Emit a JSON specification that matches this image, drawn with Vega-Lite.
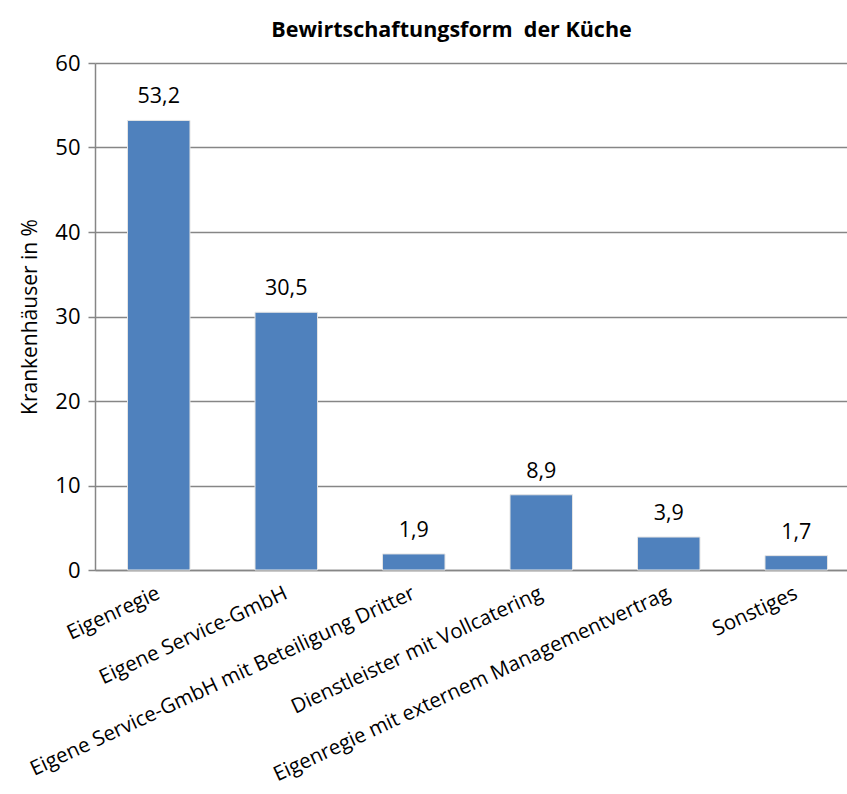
{
  "$schema": "https://vega.github.io/schema/vega-lite/v6.json",
  "width": 765,
  "height": 507,
  "autosize": {"type": "none"},
  "padding": {"left": 95, "top": 63, "right": 0, "bottom": 224},
  "background": "white",
  "config": {
    "view": {"stroke": null},
    "font": "Open Sans",
    "locale": {"number": {"decimal": ",", "thousands": ".", "grouping": [3], "currency": ["", " €"]}}
  },
  "title": {
    "text": "Bewirtschaftungsform\u00a0 der Küche",
    "font": "Open Sans",
    "fontSize": 21.5,
    "fontWeight": "bold",
    "color": "#000000",
    "anchor": "middle",
    "dx": -26,
    "offset": 11
  },
  "data": {
    "values": [
      {"kategorie": "Eigenregie", "wert": 53.2},
      {"kategorie": "Eigene Service-GmbH", "wert": 30.5},
      {"kategorie": "Eigene Service-GmbH mit Beteiligung Dritter", "wert": 1.9},
      {"kategorie": "Dienstleister mit Vollcatering", "wert": 8.9},
      {"kategorie": "Eigenregie mit externem Managementvertrag", "wert": 3.9},
      {"kategorie": "Sonstiges", "wert": 1.7}
    ]
  },
  "encoding": {
    "x": {
      "field": "kategorie",
      "type": "nominal",
      "sort": null,
      "scale": {"paddingInner": 0.51, "paddingOuter": 0.255},
      "axis": {
        "title": null,
        "labelAngle": -25,
        "labelAlign": "right",
        "labelBaseline": "middle",
        "labelFontSize": 20.5,
        "labelFont": "Open Sans",
        "labelColor": "#000000",
        "labelPadding": 22,
        "labelLimit": 600,
        "ticks": false,
        "domainColor": "#868686",
        "domainWidth": 1.5,
        "grid": false
      }
    },
    "y": {
      "field": "wert",
      "type": "quantitative",
      "scale": {"domain": [0, 60], "nice": false},
      "axis": {
        "title": "Krankenhäuser in %",
        "titleFont": "Open Sans",
        "titleFontSize": 21,
        "titleFontWeight": "normal",
        "titleColor": "#000000",
        "titlePadding": 14,
        "values": [0, 10, 20, 30, 40, 50, 60],
        "labelFontSize": 22,
        "labelFont": "Open Sans",
        "labelColor": "#000000",
        "labelPadding": 8,
        "tickSize": 7,
        "tickColor": "#868686",
        "tickWidth": 1.5,
        "domainColor": "#868686",
        "domainWidth": 1.5,
        "grid": true,
        "gridColor": "#868686",
        "gridWidth": 1.5
      }
    }
  },
  "layer": [
    {
      "mark": {"type": "bar", "color": "#4F81BD", "stroke": "#E4E4E4", "strokeWidth": 1}
    },
    {
      "mark": {"type": "text", "baseline": "bottom", "dy": -12, "fontSize": 21.5, "font": "Open Sans", "color": "#000000"},
      "encoding": {"text": {"field": "wert", "type": "quantitative", "format": ".1f"}}
    }
  ]
}
